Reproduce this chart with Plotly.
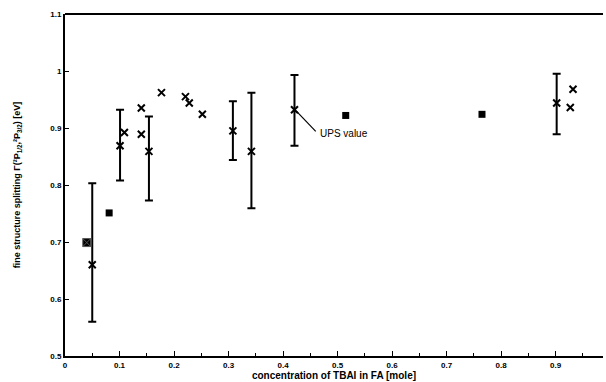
import plotly.graph_objects as go

# crosses without error bars
x_cross = [0.109, 0.140, 0.140, 0.177, 0.221, 0.228, 0.252, 0.927, 0.932]
y_cross = [0.892, 0.935, 0.889, 0.962, 0.955, 0.944, 0.924, 0.936, 0.968]

# points with error bars
x_err = [0.050, 0.101, 0.154, 0.308, 0.342, 0.421, 0.902]
y_err = [0.660, 0.869, 0.859, 0.895, 0.859, 0.932, 0.944]
err_plus = [0.143, 0.063, 0.061, 0.052, 0.103, 0.061, 0.051]
err_minus = [0.100, 0.061, 0.086, 0.051, 0.100, 0.063, 0.055]

# filled squares
x_sq = [0.081, 0.515, 0.765]
y_sq = [0.751, 0.922, 0.924]

# square with cross
x_sqx = [0.040]
y_sqx = [0.699]

# annotation
ups_label = "UPS value"
ups_point = (0.424, 0.930)
ups_text = (0.460, 0.890)

x_ticks = [0, 0.1, 0.2, 0.3, 0.4, 0.5, 0.6, 0.7, 0.8, 0.9]
y_ticks = [0.5, 0.6, 0.7, 0.8, 0.9, 1.0, 1.1]

font_fam = "Liberation Sans, Arial, sans-serif"

fig = go.Figure()
fig.add_trace(go.Scatter(
    x=x_err, y=y_err, mode="markers",
    marker=dict(symbol="x-thin", size=7, line=dict(color="black", width=2)),
    error_y=dict(type="data", symmetric=False, array=err_plus, arrayminus=err_minus,
                 color="black", thickness=2, width=4),
    showlegend=False))
fig.add_trace(go.Scatter(
    x=x_cross, y=y_cross, mode="markers",
    marker=dict(symbol="x-thin", size=7, line=dict(color="black", width=2)),
    showlegend=False))
fig.add_trace(go.Scatter(
    x=x_sq, y=y_sq, mode="markers",
    marker=dict(symbol="square", size=7, color="black"),
    showlegend=False))
fig.add_trace(go.Scatter(
    x=x_sqx, y=y_sqx, mode="markers",
    marker=dict(symbol="square-x", size=8, color="black", line=dict(color="#555", width=1)),
    showlegend=False))

fig.add_shape(type="line", x0=ups_point[0], y0=ups_point[1], x1=ups_text[0], y1=ups_text[1] + 0.004,
              xref="x", yref="y", line=dict(color="black", width=1.2))
fig.add_annotation(x=ups_text[0], y=ups_text[1], text=ups_label, showarrow=False,
                   xanchor="left", yanchor="middle", xshift=2,
                   font=dict(family=font_fam, size=10, color="black"))

fig.update_xaxes(
    range=[0, 0.987], tickvals=x_ticks, ticktext=[f"{v:g}" for v in x_ticks],
    ticks="inside", ticklen=5, tickwidth=1, tickcolor="black",
    minor=dict(dtick=0.05, tick0=0, ticks="inside", ticklen=3, tickcolor="black"),
    showline=True, linecolor="black", linewidth=2, mirror=False,
    showgrid=False, zeroline=False,
    tickfont=dict(family=font_fam, size=8, color="black", weight="bold"),
    title=dict(text="concentration of TBAI in FA [mole]", standoff=1,
               font=dict(family=font_fam, size=10, color="black", weight="bold")))
fig.update_yaxes(
    range=[0.5, 1.1], tickvals=y_ticks, ticktext=[f"{v:g}" for v in y_ticks],
    ticks="inside", ticklen=4, tickwidth=1, tickcolor="black",
    showline=True, linecolor="black", linewidth=2,
    showgrid=False, zeroline=False,
    tickfont=dict(family=font_fam, size=8, color="black", weight="bold"),
    title=dict(text="fine structure splitting Γ(²P<sub>1/2</sub>,²P<sub>3/2</sub>) [eV]", standoff=28,
               font=dict(family=font_fam, size=9, color="black", weight="bold")))

# top border line
fig.add_shape(type="line", xref="paper", yref="paper", x0=0, x1=1, y0=1, y1=1,
              line=dict(color="black", width=2))

fig.update_layout(
    width=606, height=382,
    margin=dict(l=65, r=3, t=14, b=26),
    plot_bgcolor="white", paper_bgcolor="white")

fig.write_html("out.html")
